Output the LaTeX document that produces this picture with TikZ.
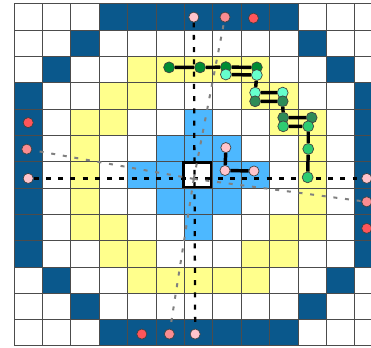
\documentclass[tikz,border=0pt]{standalone}
\usepackage{tikz}
\usepackage{xcolor}
\pgfdeclarelayer{front}
\pgfsetlayers{main,front}

\definecolor{ringblue}{RGB}{10,88,140}
\definecolor{bandyellow}{RGB}{255,255,140}
\definecolor{coreblue}{RGB}{77,184,255}
\definecolor{pinklight}{RGB}{255,196,204}
\definecolor{pinkmid}{RGB}{250,140,145}
\definecolor{pinkred}{RGB}{255,85,90}
\definecolor{stepdark}{RGB}{0,140,50}
\definecolor{stepaqua}{RGB}{102,255,204}
\definecolor{stepsea}{RGB}{46,139,87}
\definecolor{steplime}{RGB}{46,204,113}

\begin{document}
\begin{tikzpicture}[
  x=21.3pt, y=-19.725pt,
  ringcell/.style={fill=ringblue},
  bandcell/.style={fill=bandyellow},
  corecell/.style={fill=coreblue},
  gridline/.style={draw=black!70, line width=0.75pt},
  dot/.style={circle, draw=black!75, line width=0.5pt, inner sep=0pt, minimum size=7.6pt},
  gdot/.style={dot, minimum size=8.2pt},
  link/.style={line width=2.6pt, black},
  axisline/.style={line width=1.7pt, black, dash pattern=on 3.7pt off 5.5pt},
  ray/.style={line width=1.5pt, black!50, dash pattern=on 3pt off 5.8pt}
]
\useasboundingbox (-0.493,-0.152) rectangle (12.570,13.042);
\clip (-0.493,-0.152) rectangle (12.570,13.042);

\foreach \i in {3,...,9} {
  \fill[ringcell] (\i,0) rectangle ++(1,1);
  \fill[ringcell] (\i,12) rectangle ++(1,1);
  \fill[ringcell] (0,\i) rectangle ++(1,1);
  \fill[ringcell] (12,\i) rectangle ++(1,1);
}
\foreach \i/\j in {2/1,10/1,1/2,11/2,1/10,11/10,2/11,10/11}
  \fill[ringcell] (\i,\j) rectangle ++(1,1);
\foreach \i in {4,...,8} {
  \fill[bandcell] (\i,2) rectangle ++(1,1);
  \fill[bandcell] (\i,10) rectangle ++(1,1);
}
\foreach \i/\j in {3/3,4/3,8/3,9/3,3/9,4/9,8/9,9/9,2/4,3/4,9/4,10/4,2/8,3/8,9/8,10/8,
                   2/5,10/5,2/6,10/6,2/7,10/7}
  \fill[bandcell] (\i,\j) rectangle ++(1,1);
\foreach \i/\j in {6/4,5/5,6/5,7/5,4/6,5/6,7/6,8/6,5/7,6/7,7/7,6/8}
  \fill[corecell] (\i,\j) rectangle ++(1,1);
\foreach \k in {0,...,13} {
  \draw[gridline] (\k,0) -- (\k,13);
  \draw[gridline] (0,\k) -- (13,\k);
}
\draw[line width=1.8pt] (5.97,6.02) rectangle (6.94,6.96);

\begin{pgfonlayer}{front}
\node[dot, fill=pinklight] (pt0) at (6.33,0.5) {};
\node[dot, fill=pinkmid] (pt1) at (7.43,0.5) {};
\node[dot, fill=pinkred] (pt2) at (8.43,0.54) {};
\node[dot, fill=pinklight] (pl0) at (0.5,6.63) {};
\node[dot, fill=pinkmid] (pl1) at (0.45,5.52) {};
\node[dot, fill=pinkred] (pl2) at (0.5,4.51) {};
\node[dot, fill=pinklight] (pr0) at (12.42,6.63) {};
\node[dot, fill=pinkmid] (pr1) at (12.42,7.52) {};
\node[dot, fill=pinkred] (pr2) at (12.42,8.53) {};
\node[dot, fill=pinklight] (pb0) at (6.38,12.55) {};
\node[dot, fill=pinkmid] (pb1) at (5.47,12.55) {};
\node[dot, fill=pinkred] (pb2) at (4.5,12.55) {};
\node[dot, fill=pinklight] (pc1) at (7.46,5.46) {};
\node[dot, fill=pinklight] (pc2) at (7.43,6.33) {};
\node[dot, fill=pinklight] (pc3) at (8.45,6.35) {};
\node[gdot, fill=stepdark] (g1) at (5.46,2.41) {};
\node[gdot, fill=stepdark] (g2) at (6.55,2.41) {};
\node[gdot, fill=stepdark] (g3) at (7.46,2.40) {};
\node[gdot, fill=stepdark] (g4) at (8.55,2.41) {};
\node[gdot, fill=stepaqua] (h1) at (7.46,2.68) {};
\node[gdot, fill=stepaqua] (h2) at (8.55,2.70) {};
\node[gdot, fill=stepaqua] (h3) at (8.49,3.37) {};
\node[gdot, fill=stepaqua] (h4) at (9.46,3.37) {};
\node[gdot, fill=stepsea] (k1) at (8.49,3.70) {};
\node[gdot, fill=stepsea] (k2) at (9.46,3.70) {};
\node[gdot, fill=stepsea] (k3) at (9.48,4.32) {};
\node[gdot, fill=stepsea] (k4) at (10.48,4.32) {};
\node[gdot, fill=steplime] (m1) at (9.48,4.65) {};
\node[gdot, fill=steplime] (m2) at (10.36,4.65) {};
\node[gdot, fill=steplime] (m3) at (10.36,5.51) {};
\node[gdot, fill=steplime] (m4) at (10.34,6.59) {};
\end{pgfonlayer}

\coordinate (o) at (6.33,6.65);
\draw[axisline] (pt0) -- (pb0);
\draw[axisline] (pl0) -- (pr0);
\draw[ray] (o) -- (pt1);
\draw[ray] (o) -- (pl1);
\draw[ray] (o) -- (pr1);
\draw[ray] (o) -- (pb1);
\draw[link] (g1) -- (g2) -- (g3) -- (g4);
\draw[link] (h1) -- (h2) -- (h3) -- (h4);
\draw[link] (k1) -- (k2) -- (k3) -- (k4);
\draw[link] (m1) -- (m2) -- (m3) -- (m4);
\draw[link] (pc1) -- (pc2) -- (pc3);
\end{tikzpicture}
\end{document}
